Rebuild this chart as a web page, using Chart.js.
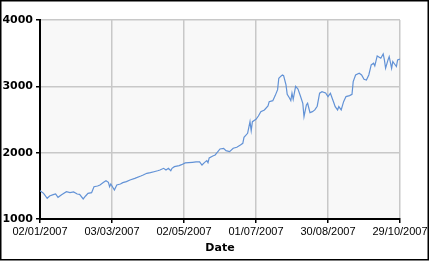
<!DOCTYPE html>
<html>
<head>
<meta charset="utf-8">
<script src="https://cdn.jsdelivr.net/npm/chart.js@4/dist/chart.umd.min.js"></script>
<style>
  html, body { margin: 0; padding: 0; background: #fff; }
  #wrap { width: 430px; height: 261px; }
</style>
</head>
<body>
<div id="wrap"><canvas id="myChart" width="430" height="261"></canvas></div>
<script>
//Days counted from the first date on the axis (02/01/2007)
var startDate = Date.UTC(2007, 0, 2);
var days = [0, 3, 6, 8, 11, 13, 15, 18, 22, 25, 28, 31, 33, 36, 38, 40, 43, 45, 48, 50,
  53, 55, 57, 58, 59, 62, 64, 67, 69, 72, 75, 79, 84, 86, 89, 92, 95, 98, 100, 103,
  105, 107, 109, 110, 112, 116, 118, 121, 124, 127, 130, 133, 135, 137, 139, 140, 141, 144, 146, 150,
  153, 155, 158, 161, 164, 167, 169, 170, 173, 175, 176, 177, 180, 182, 184, 187, 190, 191, 194, 196,
  198, 199, 201, 202, 203, 205, 206, 208, 209, 210, 211, 213, 215, 217, 219, 220, 222, 223, 225, 227,
  229, 231, 233, 235, 238, 240, 242, 245, 246, 248, 249, 251, 253, 255, 258, 260, 261, 263, 266, 268,
  270, 272, 274, 276, 278, 279, 281, 284, 286, 287, 288, 290, 291, 293, 294, 295, 297, 298, 300];
var values = [1427, 1387, 1312, 1347, 1367, 1377, 1327, 1367, 1412, 1397, 1407, 1377, 1372, 1302, 1347, 1387, 1397, 1487, 1498, 1513,
  1553, 1578, 1553, 1487, 1528, 1437, 1513, 1528, 1548, 1563, 1588, 1613, 1648, 1663, 1689, 1698, 1713, 1728, 1739, 1764,
  1739, 1764, 1728, 1764, 1789, 1804, 1819, 1845, 1850, 1855, 1860, 1860, 1814, 1850, 1880, 1850, 1920, 1950, 1965, 2056,
  2066, 2030, 2015, 2066, 2081, 2116, 2141, 2232, 2292, 2467, 2332, 2467, 2503, 2553, 2618, 2644, 2704, 2769, 2784, 2860,
  2950, 3122, 3157, 3172, 3160, 3021, 2880, 2820, 2784, 2896, 2805, 3000, 2960, 2855, 2745, 2543, 2719, 2745, 2603, 2618,
  2644, 2700, 2896, 2920, 2900, 2845, 2896, 2745, 2694, 2644, 2694, 2644, 2769, 2845, 2860, 2880, 3071, 3172, 3197, 3172,
  3107, 3096, 3172, 3323, 3348, 3308, 3459, 3424, 3489, 3398, 3273, 3398, 3448, 3273, 3373, 3348, 3298, 3398, 3410];
//Axis ranges and tick steps
var xTicks = [0, 300, 60];
var yTicks = [1000, 4000, 1000];
var xTitle = 'Date';

function pad2(n) { return (n < 10 ? '0' : '') + n; }
function dayLabel(v) {
  var d = new Date(startDate + v * 86400000);
  return pad2(d.getUTCDate()) + '/' + pad2(d.getUTCMonth() + 1) + '/' + d.getUTCFullYear();
}

var points = days.map(function (d, i) { return { x: d, y: values[i] }; });

//light grey plot area and the black frame round the picture
var frame = {
  id: 'frame',
  beforeDraw: function (chart) {
    var a = chart.chartArea, c = chart.ctx;
    c.save();
    c.fillStyle = '#f8f8f8';
    c.fillRect(a.left, a.top, a.right - a.left, a.bottom - a.top);
    c.restore();
  },
  afterDraw: function (chart) {
    var c = chart.ctx;
    c.save();
    c.strokeStyle = '#000';
    c.lineWidth = 1.5;
    c.strokeRect(0.75, 0.75, 427.5, 259);
    c.restore();
  }
};

var ctx = document.getElementById('myChart').getContext('2d');
var myChart = new Chart(ctx, {
  type: 'line',
  data: {
    datasets: [{
      data: points,
      borderColor: 'rgb(98, 146, 214)',
      borderWidth: 1.2,
      pointRadius: 0,
      tension: 0,
      fill: false
    }]
  },
  options: {
    responsive: false,
    animation: false,
    layout: { padding: { left: 0, top: 20, right: 30, bottom: 0 } },
    plugins: { legend: { display: false }, tooltip: { enabled: false } },
    scales: {
      x: {
        type: 'linear',
        min: xTicks[0],
        max: xTicks[1],
        afterFit: function (s) { s.height = 42; },
        ticks: {
          stepSize: xTicks[2],
          maxRotation: 0,
          autoSkip: false,
          padding: 2,
          color: '#000',
          font: { family: 'Liberation Sans', size: 11 },
          callback: function (v) { return dayLabel(v); }
        },
        grid: { color: '#c8c8c8', lineWidth: 1.5, tickColor: '#000', tickLength: 4 },
        border: { color: '#000', width: 2 },
        title: {
          display: true,
          text: xTitle,
          color: '#000',
          font: { family: 'DejaVu Sans', size: 11, weight: 'bold' },
          padding: { top: 0, bottom: 6 }
        }
      },
      y: {
        min: yTicks[0],
        max: yTicks[1],
        afterFit: function (s) { s.width = 40; },
        ticks: {
          stepSize: yTicks[2],
          padding: 3,
          color: '#000',
          font: { family: 'DejaVu Sans', size: 11, weight: 'bold' },
          callback: function (v) { return String(v); }
        },
        grid: { color: '#c8c8c8', lineWidth: 1.5, tickColor: '#000', tickLength: 4 },
        border: { color: '#000', width: 2 }
      }
    }
  },
  plugins: [frame]
});
</script>
</body>
</html>
